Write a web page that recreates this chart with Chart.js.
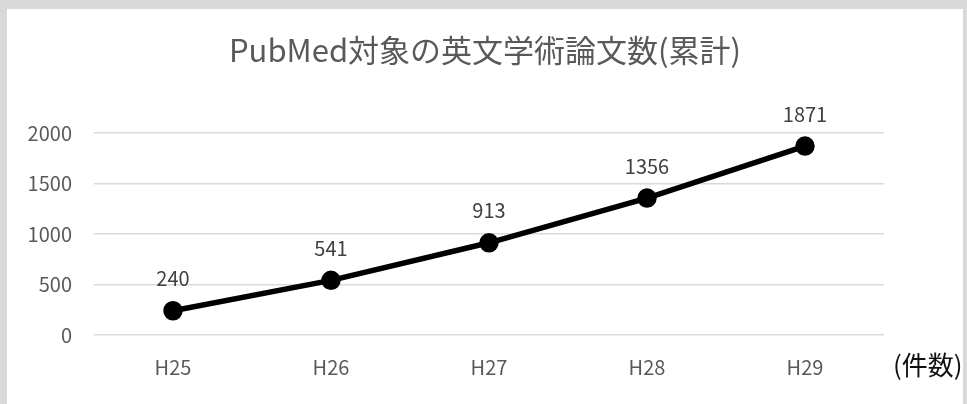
<!DOCTYPE html>
<html><head><meta charset="utf-8">
<script src="https://cdn.jsdelivr.net/npm/chart.js@4"></script>
<style>
html,body{margin:0;padding:0;background:#d9d9d9;width:967px;height:404px;overflow:hidden;}
#box{position:absolute;left:7px;top:9px;width:956px;height:395px;background:#fff;}
</style></head><body>
<div id="box"><canvas id="c" width="956" height="395"></canvas></div>
<script>
const categories = ["H25","H26","H27","H28","H29"];
const counts = [240, 541, 913, 1356, 1871];
const yTicks = [0, 500, 1000, 1500, 2000];
const titleText = "PubMed対象の英文学術論文数(累計)";
const unitText = "(件数)";

const FONT = "'Noto Sans CJK JP','Noto Sans','Open Sans',sans-serif";

const labelsPlugin = {
  id: 'extras',
  afterDatasetsDraw(chart) {
    const ctx = chart.ctx;
    const meta = chart.getDatasetMeta(0);
    ctx.save();
    ctx.font = "20px " + FONT;
    ctx.fillStyle = "#404040";
    ctx.textAlign = "center";
    ctx.textBaseline = "middle";
    meta.data.forEach((pt, i) => {
      ctx.fillText(String(counts[i]), pt.x, pt.y - 32);
    });
    // title
    ctx.font = "31px " + FONT;
    ctx.fillStyle = "#595959";
    ctx.fillText(titleText, chart.width / 2, 41);
    // unit label
    const xs = chart.scales.x;
    ctx.font = "26px " + FONT;
    ctx.fillStyle = "#111";
    ctx.textAlign = "left";
    ctx.fillText(unitText, chart.chartArea.right + 9, xs.top + 30);
    ctx.restore();
  }
};

new Chart(document.getElementById('c'), {
  type: 'line',
  data: {
    labels: categories,
    datasets: [{
      data: counts,
      borderColor: '#000',
      backgroundColor: '#000',
      borderWidth: 5.5,
      pointRadius: 7,
      pointHoverRadius: 7,
      pointBackgroundColor: '#000',
      pointBorderColor: '#000',
      tension: 0
    }]
  },
  options: {
    responsive: false,
    animation: false,
    events: [],
    layout: { padding: { left: 0, right: 79, top: 124, bottom: 0 } },
    plugins: {
      legend: { display: false },
      tooltip: { enabled: false },
      title: { display: false }
    },
    scales: {
      x: {
        offset: true,
        grid: { display: false, drawTicks: false },
        border: { display: false },
        ticks: { color: '#595959', font: { family: FONT, size: 20 }, padding: 20, maxRotation: 0 },
        afterFit(s) { s.height = 69; }
      },
      y: {
        min: 0, max: 2000,
        afterBuildTicks(s) { s.ticks = yTicks.map(v => ({ value: v })); },
        grid: { color: '#d9d9d9', lineWidth: 1.5, drawTicks: false },
        border: { display: false },
        ticks: { color: '#595959', font: { family: FONT, size: 20 }, padding: 22, callback: v => String(v) },
        afterFit(s) { s.width = 87; }
      }
    }
  },
  plugins: [labelsPlugin]
});
</script>
</body></html>
